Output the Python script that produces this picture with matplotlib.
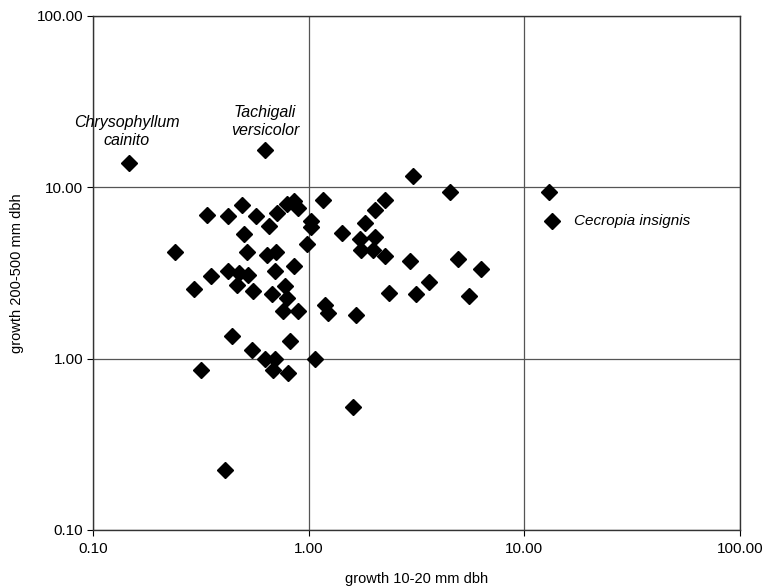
import matplotlib
matplotlib.use("Agg")
import matplotlib.pyplot as plt
from matplotlib.ticker import FixedLocator, NullLocator, FuncFormatter

plt.rcParams['font.family'] = ['Liberation Sans', 'DejaVu Sans']

# growth of saplings (10-20 mm dbh) vs large trees (200-500 mm dbh), per species
growth_small = [0.147, 0.626, 0.336, 0.423, 0.491, 0.569, 0.716, 0.797, 0.855, 0.892,
                0.653, 1.165, 1.03, 1.03, 0.986, 0.50, 0.24, 0.515, 0.644, 0.703,
                0.855, 0.696, 0.351, 0.423, 0.474, 0.524, 0.463, 0.294, 0.55, 0.676,
                0.774, 0.797, 0.76, 0.892, 1.186, 1.23, 0.439, 0.817, 0.543, 0.626,
                0.696, 0.684, 0.316, 0.80, 1.066, 1.60, 0.408, 3.04, 4.5, 2.26,
                2.04, 1.82, 1.43, 1.72, 2.04, 1.75, 1.99, 2.25, 2.94, 4.91,
                6.3, 3.63, 2.35, 3.15, 5.51, 1.66, 13.05, 13.4]
growth_large = [13.8, 16.5, 6.9, 6.8, 7.9, 6.8, 7.07, 8.0, 8.27, 7.56,
                5.97, 8.46, 6.4, 5.86, 4.69, 5.33, 4.19, 4.22, 4.04, 4.22,
                3.49, 3.26, 3.05, 3.23, 3.16, 3.09, 2.70, 2.55, 2.47, 2.39,
                2.64, 2.26, 1.89, 1.89, 2.06, 1.85, 1.36, 1.27, 1.13, 0.99,
                0.99, 0.86, 0.855, 0.826, 0.99, 0.523, 0.223, 11.7, 9.45, 8.38,
                7.39, 6.18, 5.41, 4.99, 5.12, 4.28, 4.28, 3.99, 3.73, 3.81,
                3.35, 2.79, 2.42, 2.38, 2.31, 1.79, 9.38, 6.4]

# labelled species: (name, index into the arrays above)
labels = [("Chrysophyllum\ncainito", 0), ("Tachigali\nversicolor", 1), ("Cecropia insignis", 67)]

ticks = [0.1, 1, 10, 100]

fig = plt.figure(figsize=(7.65, 5.86), dpi=100)
ax = fig.add_axes([0.1216, 0.0956, 0.8458, 0.8771])

ax.plot(growth_small, growth_large, linestyle='none', marker='D', markersize=8,
        color='black', zorder=3)

ax.set_xscale('log')
ax.set_yscale('log')
ax.set_xlim(0.1, 100)
ax.set_ylim(0.1, 100)

fmt = FuncFormatter(lambda v, p: "%.2f" % v)
for axis in (ax.xaxis, ax.yaxis):
    axis.set_major_locator(FixedLocator(ticks))
    axis.set_minor_locator(NullLocator())
    axis.set_major_formatter(fmt)

ax.grid(True, which='major', color='#555555', linewidth=0.9)
ax.set_axisbelow(True)
for s in ax.spines.values():
    s.set_color('#333333')
    s.set_linewidth(1.0)
ax.tick_params(axis='both', which='major', direction='out', length=4, width=0.8,
               labelsize=11, colors='black', pad=3)
ax.tick_params(axis='x', pad=5)

ax.set_xlabel('growth 10-20 mm dbh', fontsize=10.5, labelpad=11)
ax.set_ylabel('growth 200-500 mm dbh', fontsize=10.5, labelpad=9)

name, i = labels[0]
ax.annotate(name, (growth_small[i], growth_large[i]), xytext=(-1.5, 11), textcoords='offset points',
            ha='center', va='bottom', fontsize=11.5, style='italic', linespacing=1.25)
name, i = labels[1]
ax.annotate(name, (growth_small[i], growth_large[i]), xytext=(0, 9), textcoords='offset points',
            ha='center', va='bottom', fontsize=11.5, style='italic', linespacing=1.25)
name, i = labels[2]
ax.annotate(name, (growth_small[i], growth_large[i]), xytext=(16, 0), textcoords='offset points',
            ha='left', va='center', fontsize=11, style='italic')

fig.savefig('out.png', dpi=100)
